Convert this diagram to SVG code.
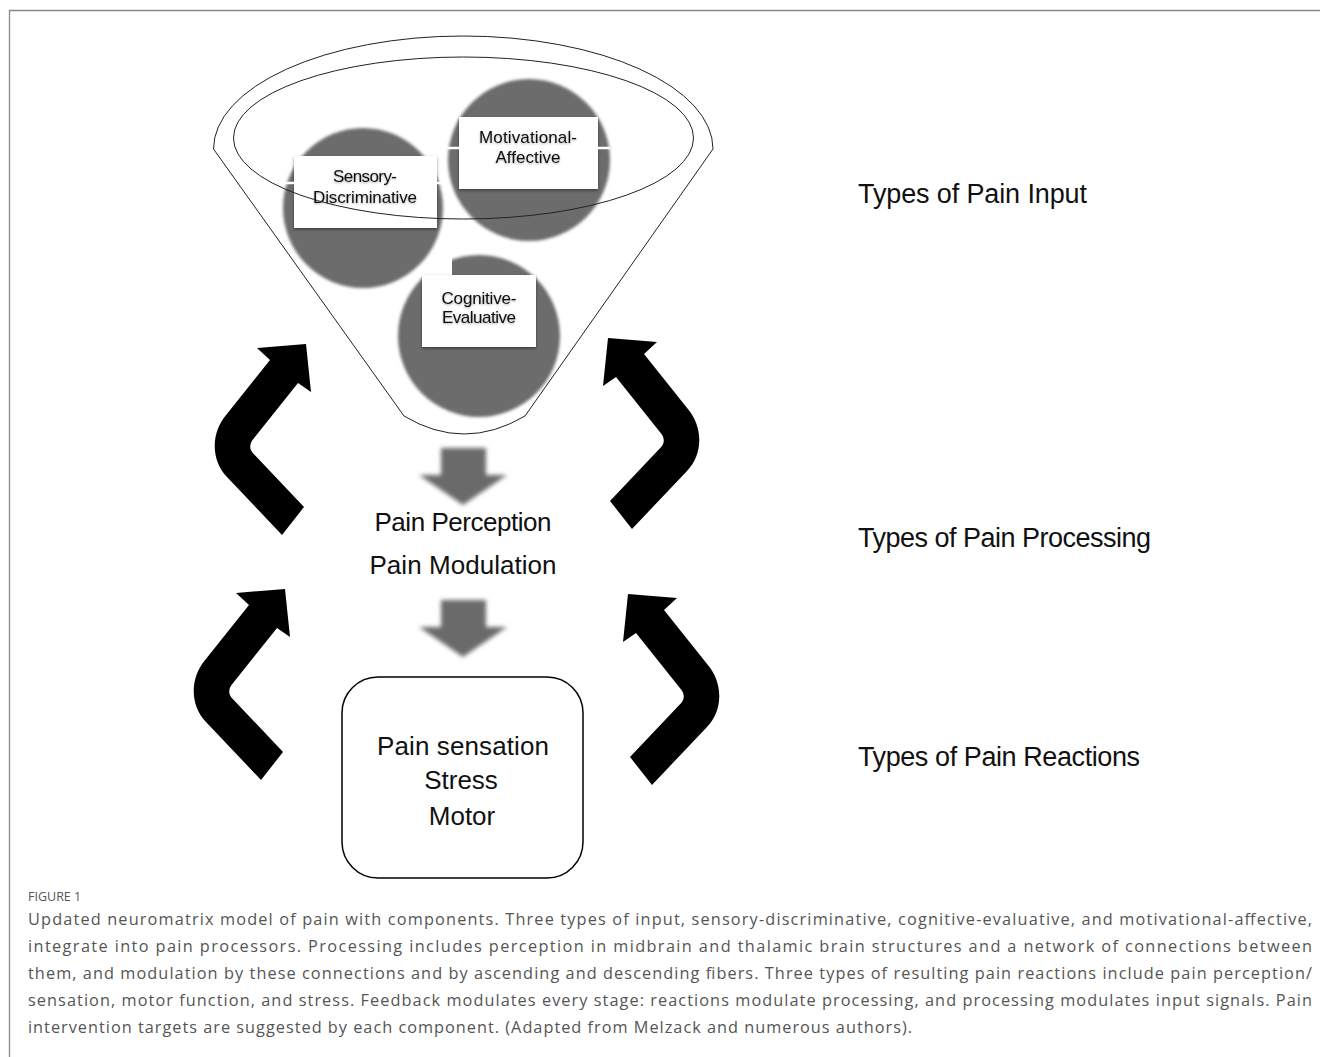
<svg xmlns="http://www.w3.org/2000/svg" width="1320" height="1057" viewBox="0 0 1320 1057">
<defs>
<pattern id="stripes" width="6" height="3" patternUnits="userSpaceOnUse">
<rect width="6" height="3" fill="#686868"/>
<rect width="6" height="1" fill="#757575"/>
</pattern>
<filter id="soft" x="-10%" y="-10%" width="120%" height="120%"><feGaussianBlur stdDeviation="1.6"/></filter>
<filter id="blur" x="-20%" y="-20%" width="140%" height="140%"><feGaussianBlur stdDeviation="2.2"/></filter>
<filter id="boxsh" x="-10%" y="-10%" width="120%" height="130%"><feDropShadow dx="0" dy="1.5" stdDeviation="1.5" flood-color="#000" flood-opacity="0.45"/></filter>
<filter id="txtsh" x="-10%" y="-30%" width="120%" height="160%"><feDropShadow dx="0" dy="1" stdDeviation="1.2" flood-color="#000" flood-opacity="0.35"/></filter>
<path id="bent" d="M306,344 L257,348 L270,360 L226.3,414.7 C210.5,433 211,461.1 227,476.9 L282,535 L304,507 L254.5,454.7 Q246,446.8 254.3,437.7 L298,383 L311,392 Z"/>
<path id="down" d="M441,448 H486 V475 H507 L463,505 L419,475 H441 Z"/>
</defs>
<style>
.lbl{font-family:"Liberation Sans",Arial,sans-serif;font-size:17px;fill:#111;text-anchor:middle}
.big{font-family:"Liberation Sans",Arial,sans-serif;font-size:26px;fill:#111;text-anchor:middle}
.side{font-family:"Liberation Sans",Arial,sans-serif;font-size:27px;fill:#111}
.cap{font-family:"Open Sans","Liberation Sans",sans-serif;font-size:16.3px;fill:#555}
.fig{font-family:"Open Sans","Liberation Sans",sans-serif;font-size:12.5px;fill:#555}
.wbox{fill:#fff}
.line{fill:none;stroke:#222;stroke-width:1}
</style>
<rect width="1320" height="1057" fill="#fff"/>
<path d="M9.5,1057 V10.5 H1320" fill="none" stroke="#888" stroke-width="1.3"/>

<g id="cognitive">
<circle cx="479" cy="336" r="81" fill="url(#stripes)" filter="url(#soft)"/>
<rect x="392" y="248" width="60" height="29" fill="#fff"/>
<rect class="wbox" x="422" y="275" width="114" height="72" filter="url(#boxsh)"/>
<g filter="url(#txtsh)">
<text class="lbl" x="479" y="304" textLength="75">Cognitive-</text>
<text class="lbl" x="479" y="323" textLength="74">Evaluative</text>
</g>
</g>

<g id="sensory">
<circle cx="363" cy="208" r="80" fill="url(#stripes)" filter="url(#soft)"/>
<rect class="wbox" x="294" y="156" width="143" height="72" filter="url(#boxsh)"/>
<line x1="284" y1="183" x2="294" y2="183" stroke="#fff" stroke-width="2.5"/>
<line x1="437" y1="183" x2="443" y2="183" stroke="#fff" stroke-width="2.5"/>
<g filter="url(#txtsh)">
<text class="lbl" x="365" y="182" textLength="64">Sensory-</text>
<text class="lbl" x="365" y="203" textLength="104">Discriminative</text>
</g>
</g>

<g id="motivational">
<circle cx="529" cy="160" r="81" fill="url(#stripes)" filter="url(#soft)"/>
<rect class="wbox" x="459" y="117" width="139" height="72" filter="url(#boxsh)"/>
<line x1="447" y1="148" x2="459" y2="148" stroke="#fff" stroke-width="2.5"/>
<line x1="598" y1="148" x2="610" y2="148" stroke="#fff" stroke-width="2.5"/>
<g filter="url(#txtsh)">
<text class="lbl" x="528" y="143" textLength="98">Motivational-</text>
<text class="lbl" x="528" y="163" textLength="65">Affective</text>
</g>
</g>

<g id="funnel">
<path class="line" d="M213.5,149 A249.75,113 0 0 1 713,149 L525,416 Q464,452 404,416 Z"/>
<ellipse class="line" cx="463.5" cy="138" rx="230" ry="81"/>
</g>

<g id="processing">
<text class="big" x="463" y="531" textLength="177">Pain Perception</text>
<text class="big" x="463" y="574" textLength="187">Pain Modulation</text>
</g>

<g id="reactions">
<rect x="342" y="677" width="241" height="201" rx="36" ry="36" fill="#fff" stroke="#000" stroke-width="1.5"/>
<text class="big" x="463" y="755" textLength="172">Pain sensation</text>
<text class="big" x="461" y="789">Stress</text>
<text class="big" x="462" y="825">Motor</text>
</g>

<g id="connectors">
<use href="#down" fill="#6b6b6b" filter="url(#blur)"/>
<use href="#down" fill="#6b6b6b" filter="url(#blur)" transform="translate(0,152)"/>
<use href="#bent" fill="#000"/>
<use href="#bent" fill="#000" transform="translate(-21,245)"/>
<use href="#bent" fill="#000" transform="matrix(-1,0,0,1,914,-6)"/>
<use href="#bent" fill="#000" transform="matrix(-1,0,0,1,934,250)"/>
</g>

<g id="labels">
<text class="side" x="858" y="203" textLength="229">Types of Pain Input</text>
<text class="side" x="858" y="547" textLength="293">Types of Pain Processing</text>
<text class="side" x="858" y="766" textLength="282">Types of Pain Reactions</text>
</g>

<g id="caption">
<text class="fig" x="28" y="901">FIGURE 1</text>
<text class="cap" x="28" y="925" textLength="1284" lengthAdjust="spacing">Updated neuromatrix model of pain with components. Three types of input, sensory-discriminative, cognitive-evaluative, and motivational-affective,</text>
<text class="cap" x="28" y="952" textLength="1284" lengthAdjust="spacing">integrate into pain processors. Processing includes perception in midbrain and thalamic brain structures and a network of connections between</text>
<text class="cap" x="28" y="979" textLength="1284" lengthAdjust="spacing">them, and modulation by these connections and by ascending and descending fibers. Three types of resulting pain reactions include pain perception/</text>
<text class="cap" x="28" y="1006" textLength="1284" lengthAdjust="spacing">sensation, motor function, and stress. Feedback modulates every stage: reactions modulate processing, and processing modulates input signals. Pain</text>
<text class="cap" x="28" y="1033" textLength="884" lengthAdjust="spacing">intervention targets are suggested by each component. (Adapted from Melzack and numerous authors).</text>
</g>
</svg>
